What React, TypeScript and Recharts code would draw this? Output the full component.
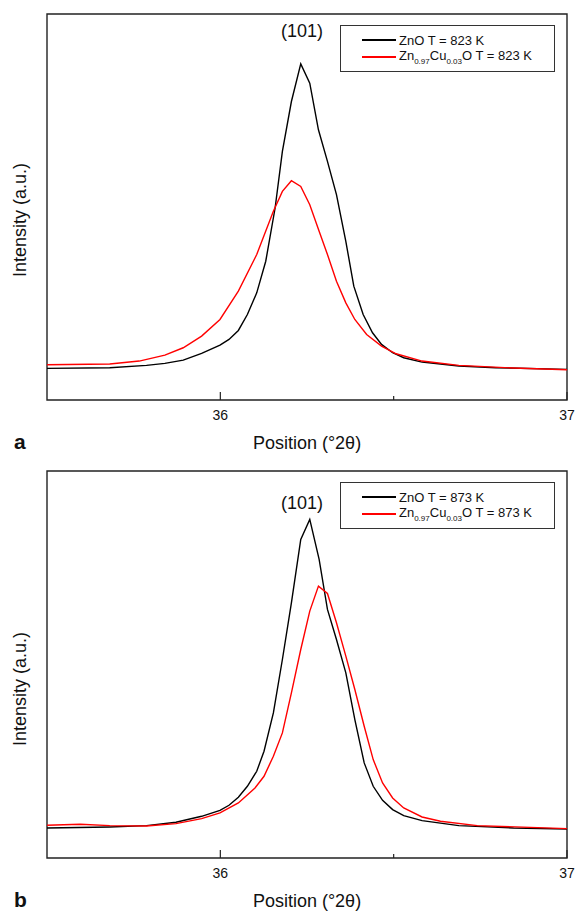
import React from 'react';
import { LineChart, Line, XAxis, YAxis, ReferenceArea, Legend, Customized } from 'recharts';

// ---------- data ----------
const xTicks = [36, 36.5, 37];
const xTickLabels = ['36', '', '37'];

// Panel a : T = 823 K
const znoA_x = [35.5, 35.681, 35.787, 35.84, 35.893, 35.946, 35.999, 36.025, 36.052, 36.078, 36.105, 36.131, 36.158, 36.179, 36.205, 36.232, 36.258, 36.283, 36.309, 36.335, 36.362, 36.385, 36.412, 36.439, 36.465, 36.497, 36.529, 36.582, 36.688, 36.794, 37.0];
const znoA_y = [95, 97, 104, 110, 120, 140, 165, 182, 209, 257, 322, 417, 577, 747, 897, 1010, 952, 812, 717, 617, 477, 342, 257, 202, 167, 142, 127, 114, 102, 97, 92];
const cuA_x = [35.5, 35.681, 35.766, 35.84, 35.893, 35.946, 35.999, 36.052, 36.105, 36.153, 36.179, 36.205, 36.232, 36.258, 36.285, 36.309, 36.335, 36.362, 36.388, 36.422, 36.465, 36.507, 36.582, 36.688, 36.846, 37.0];
const cuA_y = [106, 108, 117, 135, 157, 192, 242, 327, 437, 567, 627, 659, 642, 587, 507, 437, 357, 292, 242, 197, 162, 139, 117, 104, 96, 91];

// Panel b : T = 873 K
const znoB_x = [35.5, 35.681, 35.787, 35.872, 35.946, 35.999, 36.025, 36.052, 36.078, 36.105, 36.126, 36.153, 36.179, 36.205, 36.232, 36.258, 36.285, 36.309, 36.335, 36.362, 36.388, 36.415, 36.441, 36.468, 36.497, 36.529, 36.582, 36.688, 36.846, 37.0];
const znoB_y = [90, 93, 97, 107, 125, 143, 158, 182, 215, 260, 320, 435, 595, 765, 955, 1015, 895, 745, 655, 555, 415, 285, 215, 173, 145, 127, 112, 97, 90, 87];
const cuB_x = [35.5, 35.596, 35.681, 35.787, 35.872, 35.946, 35.999, 36.052, 36.1, 36.126, 36.153, 36.179, 36.205, 36.232, 36.258, 36.283, 36.309, 36.335, 36.362, 36.388, 36.415, 36.441, 36.468, 36.497, 36.529, 36.582, 36.635, 36.741, 37.0];
const cuB_y = [98, 101, 97, 96, 103, 118, 135, 165, 210, 245, 305, 375, 495, 625, 740, 815, 793, 705, 605, 505, 395, 295, 225, 180, 150, 123, 110, 97, 88];

const zip = (xs: number[], ys: number[]) => xs.map((x, i) => ({ x, v: ys[i] }));

const FONT = '"Liberation Sans", Arial, sans-serif';
const X_DOMAIN: [number, number] = [35.5, 37];
const Y_DOMAIN: [number, number] = [0, 1160];
const TICK_MARGIN = 10;

function XTick(props: any) {
  const { x, y, payload, index } = props;
  const axisY = y - TICK_MARGIN;
  const major = payload.value !== 36.5;
  const label = xTickLabels[index];
  return (
    <g>
      <line x1={x} x2={x} y1={axisY} y2={axisY - (major ? 8 : 4)} stroke="#222" strokeWidth={1.2} />
      {label ? (
        <text x={x} y={axisY + 20} textAnchor="middle" fontSize={14} fill="#111" fontFamily={FONT}>
          {label}
        </text>
      ) : null}
    </g>
  );
}

function LegendBox(props: any) {
  const payload = [...(props.payload || [])].sort((a: any, b: any) =>
    String(a.value).startsWith('ZnO') ? -1 : String(b.value).startsWith('ZnO') ? 1 : 0
  );
  return (
    <div
      style={{
        border: '1px solid #333',
        width: 215,
        height: 47,
        boxSizing: 'border-box',
        background: '#fff',
        fontFamily: FONT,
        fontSize: 13,
        color: '#111',
        position: 'relative',
      }}
    >
      {payload.map((p: any, i: number) => {
        const parts = String(p.value).split(/(0\.\d+)/);
        return (
          <div key={i} style={{ position: 'absolute', left: 21, top: 6 + i * 17, height: 16, display: 'flex', alignItems: 'center', whiteSpace: 'nowrap' }}>
            <span style={{ display: 'inline-block', width: 34, height: 2, background: p.color, marginRight: 3 }} />
            <span>
              {parts.map((s, j) =>
                /^0\./.test(s) ? (
                  <span key={j} style={{ fontSize: 8, verticalAlign: -4 }}>{s}</span>
                ) : (
                  <span key={j}>{s}</span>
                )
              )}
            </span>
          </div>
        );
      })}
    </div>
  );
}

type PanelProps = {
  top: number;
  height: number;
  plotTop: number;
  plotBottom: number;
  letter: string;
  temp: string;
  zno: { x: number; v: number }[];
  cu: { x: number; v: number }[];
  peakLabelY: number;
  yLabelY: number;
  letterY: number;
  xLabelY: number;
};

function Panel(p: PanelProps) {
  const W = 576;
  const left = 47;
  const right = 567;
  const xAxisH = p.height - p.plotBottom;
  const Annot = () => (
    <g fontFamily={FONT}>
      <text x={302} y={p.peakLabelY} textAnchor="middle" fontSize={18} fill="#111">(101)</text>
      <text
        transform={`translate(20,${p.yLabelY}) rotate(-90)`}
        textAnchor="middle"
        dominantBaseline="central"
        fontSize={18}
        fill="#111"
      >
        Intensity (a.u.)
      </text>
      <text x={(left + right) / 2} y={p.xLabelY} textAnchor="middle" fontSize={18} fill="#111">
        Position (°2θ)
      </text>
      <text x={14} y={p.letterY} fontSize={21} fontWeight="bold" fill="#111">{p.letter}</text>
    </g>
  );
  return (
    <div style={{ position: 'absolute', left: 0, top: p.top }}>
      <LineChart width={W} height={p.height} margin={{ top: p.plotTop, right: W - right, bottom: 0, left: 0 }}>
        <XAxis
          type="number"
          dataKey="x"
          domain={X_DOMAIN}
          ticks={xTicks}
          interval={0}
          allowDataOverflow
          height={xAxisH}
          axisLine={false}
          tickLine={false}
          tickSize={0}
          tickMargin={TICK_MARGIN}
          tick={<XTick />}
        />
        <YAxis type="number" domain={Y_DOMAIN} width={left} tick={false} tickLine={false} axisLine={false} allowDataOverflow />
        <ReferenceArea x1={35.5} x2={37} y1={0} y2={1160} fill="none" stroke="#222" strokeWidth={1.4} ifOverflow="visible" />
        <Line data={p.zno} dataKey="v" name={`ZnO T = ${p.temp} K`} stroke="#000" strokeWidth={1.4} dot={false} isAnimationActive={false} />
        <Line data={p.cu} dataKey="v" name={`Zn0.97Cu0.03O T = ${p.temp} K`} stroke="#f00" strokeWidth={1.4} dot={false} isAnimationActive={false} />
        <Legend
          layout="horizontal"
          verticalAlign="middle"
          align="center"
          content={<LegendBox />}
          wrapperStyle={{ left: 340, top: p.plotTop + 11, width: 215, height: 47 }}
        />
        <Customized component={Annot} />
      </LineChart>
    </div>
  );
}

export default function App() {
  return (
    <div style={{ position: 'absolute', left: 0, top: 0, width: 576, height: 913, background: '#fff' }}>
      <Panel
        top={0}
        height={456}
        plotTop={14}
        plotBottom={400}
        letter="a"
        temp="823"
        zno={zip(znoA_x, znoA_y)}
        cu={zip(cuA_x, cuA_y)}
        peakLabelY={37}
        yLabelY={220}
        letterY={449}
        xLabelY={449}
      />
      <Panel
        top={460}
        height={453}
        plotTop={11}
        plotBottom={398}
        letter="b"
        temp="873"
        zno={zip(znoB_x, znoB_y)}
        cu={zip(cuB_x, cuB_y)}
        peakLabelY={49}
        yLabelY={229}
        letterY={447}
        xLabelY={447}
      />
    </div>
  );
}
